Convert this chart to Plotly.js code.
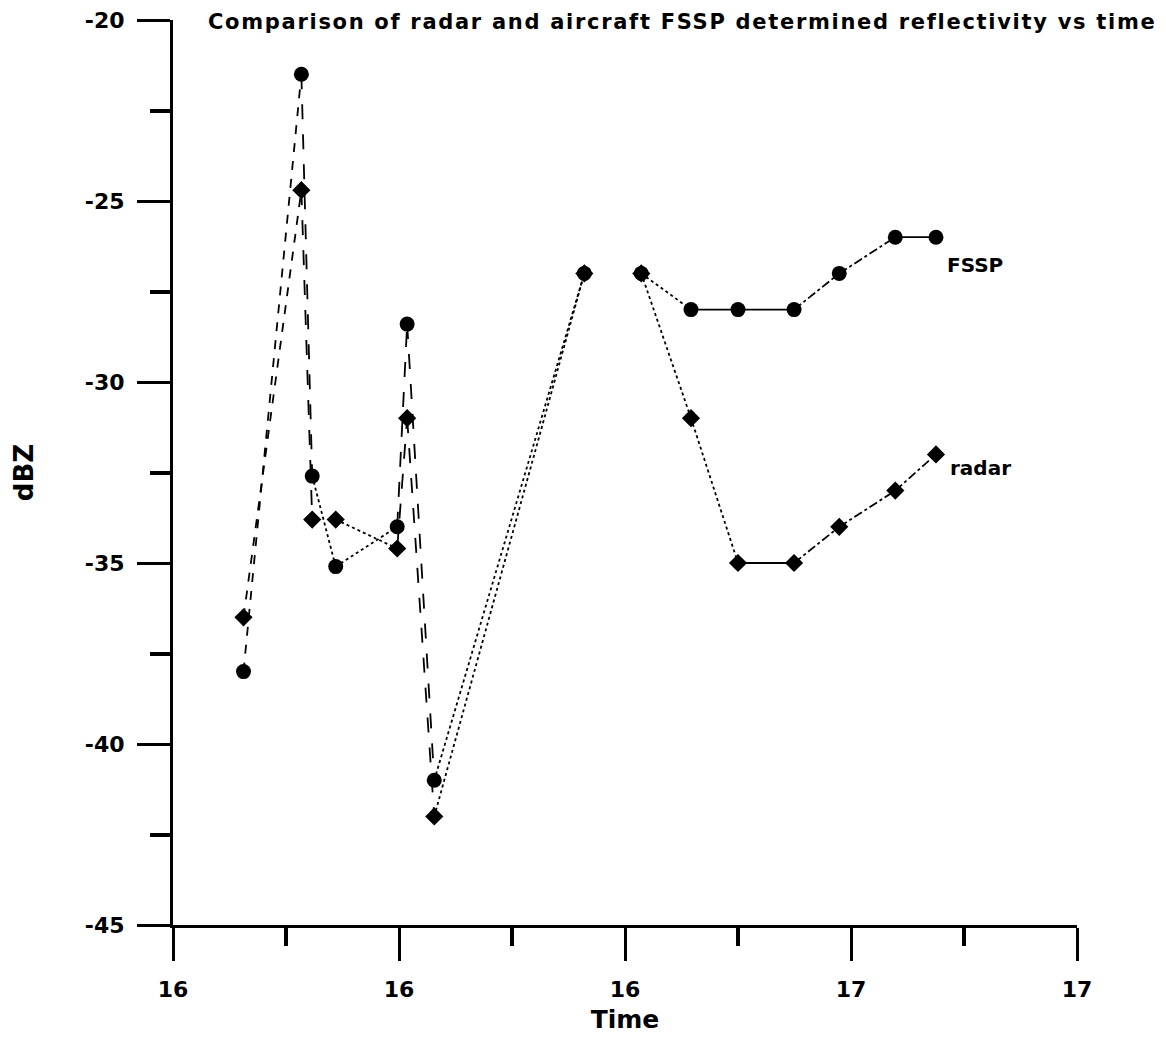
<!DOCTYPE html>
<html>
<head>
<meta charset="utf-8">
<script src="https://cdn.plot.ly/plotly-3.0.1.min.js"></script>
<style>
  html, body { margin: 0; padding: 0; background: #ffffff; }
  #chart { width: 1166px; height: 1040px; }
  #chart .gtitle { letter-spacing: 1.7px; }
</style>
</head>
<body>
<div id="chart"></div>
<script>
// ---- data ----
const time = [15.828, 15.892, 15.904, 15.930, 15.998, 16.009, 16.039, 16.205, 16.268, 16.323, 16.375, 16.437, 16.487, 16.549, 16.594];
const fssp = [-38.0, -21.5, -32.6, -35.1, -34.0, -28.4, -41.0, -27.0, -27.0, -28.0, -28.0, -28.0, -27.0, -26.0, -26.0];
const radar = [-36.5, -24.7, -33.8, -33.8, -34.6, -31.0, -42.0, -27.0, -27.0, -31.0, -35.0, -35.0, -34.0, -33.0, -32.0];
const xTickVals = [15.75, 16.0, 16.25, 16.5, 16.75];
const xTickText = ["16", "16", "16", "17", "17"];
const yTickVals = [-45, -40, -35, -30, -25, -20];
const yTickText = ["-45", "-40", "-35", "-30", "-25", "-20"];
const seriesLabels = ["FSSP", "radar"];

// ---- per-segment line styles (null = no connecting line) ----
const fsspSegDash = ['dash', 'longdash', 'dot', 'dot', 'longdash', 'longdash', 'dot', null, 'dot', 'solid', 'solid', 'dashdot', 'dashdot', 'solid'];
const radarSegDash = ['dash', 'longdash', null, 'dot', 'longdash', 'longdash', 'dot', null, 'dot', 'dot', 'solid', 'dashdot', 'dashdot', 'dashdot'];

const FONT = '"DejaVu Sans", Verdana, sans-serif';
const traces = [];

function addSegments(vals, dashes) {
  for (let i = 0; i < vals.length - 1; i++) {
    if (!dashes[i]) continue;
    traces.push({
      type: 'scatter', mode: 'lines',
      x: [time[i], time[i + 1]], y: [vals[i], vals[i + 1]],
      line: { color: '#000', width: 1.8, dash: dashes[i] },
      hoverinfo: 'skip', showlegend: false
    });
  }
}
addSegments(fssp, fsspSegDash);
addSegments(radar, radarSegDash);

traces.push({
  type: 'scatter', mode: 'markers', name: 'radar',
  x: time, y: radar,
  marker: { symbol: 'diamond', size: 14, color: '#000' },
  showlegend: false
});
traces.push({
  type: 'scatter', mode: 'markers', name: 'FSSP',
  x: time, y: fssp,
  marker: { symbol: 'circle', size: 15, color: '#000' },
  showlegend: false
});

const layout = {
  width: 1166, height: 1040,
  paper_bgcolor: '#fff', plot_bgcolor: '#fff',
  margin: { l: 173, r: 89, t: 20, b: 115, pad: 0 },
  font: { family: FONT, color: '#000', size: 20 },
  title: {
    text: '<b>Comparison of radar and aircraft FSSP determined reflectivity vs time</b>',
    font: { family: FONT, size: 21, color: '#000' },
    x: 208 / 1166, xanchor: 'left', xref: 'container',
    y: 1 - 22 / 1040, yanchor: 'middle', yref: 'container'
  },
  xaxis: {
    range: [15.75, 16.75],
    tickmode: 'array', tickvals: xTickVals, ticktext: xTickText,
    ticks: 'outside', ticklen: 33, tickwidth: 3, tickcolor: '#000',
    showline: true, linewidth: 3, linecolor: '#000',
    showgrid: false, zeroline: false,
    tickfont: { family: FONT, size: 22, color: '#000', weight: 'bold' },
    ticklabelstandoff: 10,
    minor: { tickmode: 'array', tickvals: [15.875, 16.125, 16.375, 16.625], ticks: 'outside', ticklen: 18, tickwidth: 4, tickcolor: '#000', showgrid: false },
    title: { text: '<b>Time</b>', font: { family: FONT, size: 25, color: '#000' }, standoff: 10 }
  },
  yaxis: {
    range: [-45, -20],
    tickmode: 'array', tickvals: yTickVals, ticktext: yTickText,
    ticks: 'outside', ticklen: 33, tickwidth: 3, tickcolor: '#000',
    showline: true, linewidth: 3, linecolor: '#000',
    showgrid: false, zeroline: false,
    tickfont: { family: FONT, size: 22, color: '#000', weight: 'bold' },
    ticklabelstandoff: 8,
    minor: { tickmode: 'array', tickvals: [-42.5, -37.5, -32.5, -27.5, -22.5], ticks: 'outside', ticklen: 20, tickwidth: 4, tickcolor: '#000', showgrid: false },
    title: { text: '<b>dBZ</b>', font: { family: FONT, size: 26, color: '#000' }, standoff: 44 }
  },
  annotations: [
    { x: 16.594, y: -26.0, xref: 'x', yref: 'y', text: '<b>' + seriesLabels[0] + '</b>', showarrow: false,
      xanchor: 'left', yanchor: 'middle', xshift: 9, yshift: -28, font: { family: FONT, size: 20, color: '#000' } },
    { x: 16.594, y: -32.0, xref: 'x', yref: 'y', text: '<b>' + seriesLabels[1] + '</b>', showarrow: false,
      xanchor: 'left', yanchor: 'middle', xshift: 12, yshift: -14, font: { family: FONT, size: 20, color: '#000' } }
  ]
};

Plotly.newPlot('chart', traces, layout, { displayModeBar: false, staticPlot: true });
</script>
</body>
</html>
